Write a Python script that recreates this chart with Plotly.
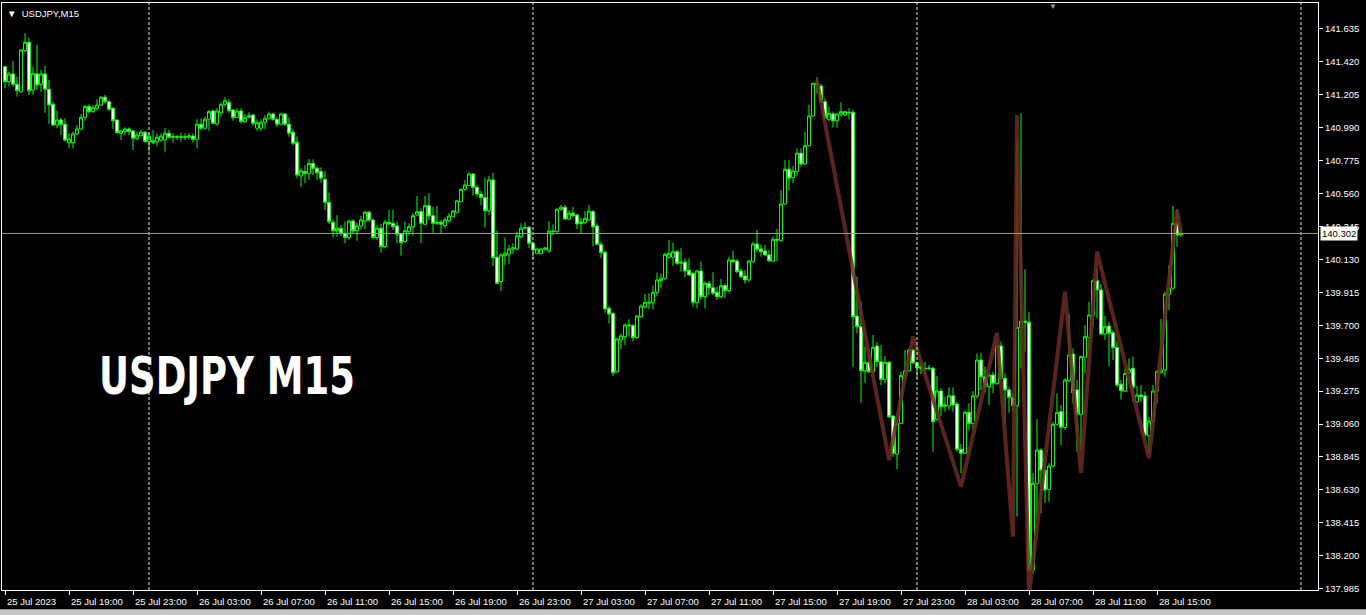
import pandas as pd
import plotly.graph_objects as go

# USDJPY M15 bars, first bar 25 Jul 2023 15:00
start_time = "2023-07-25 15:00"

opens = [
    141.389, 141.291, 141.342, 141.274, 141.226, 141.494, 141.548, 141.237, 141.342, 141.274,
    141.342, 141.242, 141.144, 141.009, 141.042, 141.014, 140.894, 140.894, 140.951, 140.983,
    141.059, 141.129, 141.096, 141.118, 141.139, 141.190, 141.161, 141.118, 141.042, 140.955,
    140.966, 140.983, 140.970, 140.922, 140.939, 140.962, 140.900, 140.894, 140.900, 140.911,
    140.911, 140.955, 140.929, 140.933, 140.929, 140.933, 140.929, 140.937, 140.916, 141.014,
    140.988, 141.046, 141.100, 141.016, 141.089, 141.144, 141.157, 141.107, 141.057, 141.100,
    141.031, 141.059, 141.074, 140.988, 140.988, 141.027, 141.053, 141.081, 141.046, 141.014,
    141.081, 141.014, 140.962, 140.896, 140.677, 140.705, 140.694, 140.759, 140.727, 140.705,
    140.655, 140.505, 140.375, 140.320, 140.336, 140.303, 140.275, 140.383, 140.320, 140.351,
    140.383, 140.440, 140.390, 140.275, 140.336, 140.216, 140.375, 140.368, 140.351, 140.299,
    140.249, 140.314, 140.346, 140.422, 140.444, 140.362, 140.483, 140.418, 140.375, 140.375,
    140.353, 140.385, 140.411, 140.440, 140.509, 140.590, 140.614, 140.690, 140.603, 140.559,
    140.535, 140.450, 140.651, 140.147, 139.988, 140.157, 140.168, 140.201, 140.201, 140.281,
    140.336, 140.342, 140.238, 140.170, 140.170, 140.199, 140.190, 140.318, 140.314, 140.460,
    140.473, 140.396, 140.434, 140.422, 140.377, 140.372, 140.390, 140.444, 140.351, 140.231,
    140.179, 139.814, 139.781, 139.401, 139.608, 139.629, 139.699, 139.701, 139.623, 139.759,
    139.825, 139.849, 139.853, 139.918, 139.994, 140.010, 140.147, 140.147, 140.183, 140.108,
    140.115, 140.062, 140.042, 139.853, 140.057, 139.890, 139.977, 139.948, 139.918, 139.890,
    139.962, 139.929, 140.129, 140.122, 140.057, 140.025, 139.999, 140.118, 140.233, 140.201,
    140.188, 140.162, 140.122, 140.264, 140.257, 140.494, 140.720, 140.668, 140.705, 140.825,
    140.755, 140.874, 141.068, 141.281, 141.263, 141.161, 141.046, 141.081, 141.037, 141.079,
    141.074, 141.092, 141.092, 139.764, 139.694, 139.407, 139.462, 139.401, 139.568, 139.466,
    139.351, 139.462, 139.112, 138.864, 139.064, 139.377, 139.407, 139.542, 139.459, 139.433,
    139.423, 139.425, 139.423, 139.091, 139.275, 139.184, 139.177, 139.244, 139.190, 138.895,
    138.869, 139.136, 139.064, 139.243, 139.477, 139.368, 139.303, 139.379, 139.325, 139.568,
    139.358, 139.282, 139.234, 139.179, 139.690, 139.731, 139.723, 138.108, 138.673, 138.890,
    138.760, 138.634, 138.786, 139.058, 139.140, 139.038, 139.342, 139.516, 139.282, 139.123,
    139.495, 139.625, 139.770, 139.994, 139.934, 139.647, 139.699, 139.655, 139.560, 139.319,
    139.275, 139.394, 139.423, 139.205, 139.249, 139.243, 138.984, 139.080, 139.275, 139.394,
    139.412, 139.907, 139.945, 140.368, 140.292,
]

highs = [
    141.394, 141.357, 141.426, 141.324, 141.503, 141.607, 141.578, 141.389, 141.531, 141.368,
    141.394, 141.302, 141.161, 141.102, 141.057, 141.053, 140.955, 140.966, 141.009, 141.081,
    141.139, 141.144, 141.139, 141.177, 141.198, 141.205, 141.172, 141.124, 141.042, 140.977,
    140.994, 140.994, 140.977, 140.966, 140.977, 140.966, 140.955, 140.977, 140.955, 140.955,
    140.988, 140.977, 140.955, 140.944, 140.959, 140.955, 140.955, 140.955, 141.046, 141.053,
    141.063, 141.107, 141.111, 141.118, 141.155, 141.190, 141.177, 141.111, 141.118, 141.118,
    141.081, 141.092, 141.081, 141.046, 141.046, 141.074, 141.096, 141.089, 141.059, 141.089,
    141.085, 141.059, 140.981, 140.933, 140.727, 140.748, 140.787, 140.785, 140.737, 140.733,
    140.709, 140.568, 140.394, 140.422, 140.357, 140.379, 140.390, 140.394, 140.372, 140.416,
    140.450, 140.450, 140.401, 140.357, 140.364, 140.390, 140.455, 140.455, 140.379, 140.303,
    140.379, 140.368, 140.437, 140.546, 140.466, 140.546, 140.564, 140.476, 140.481, 140.390,
    140.407, 140.437, 140.455, 140.520, 140.596, 140.651, 140.701, 140.694, 140.618, 140.580,
    140.666, 140.677, 140.698, 140.320, 140.173, 140.275, 140.227, 140.238, 140.314, 140.368,
    140.375, 140.351, 140.249, 140.205, 140.205, 140.216, 140.383, 140.362, 140.466, 140.488,
    140.488, 140.450, 140.476, 140.429, 140.407, 140.448, 140.488, 140.455, 140.368, 140.245,
    140.190, 139.829, 139.788, 139.619, 139.651, 139.716, 139.742, 139.712, 139.770, 139.840,
    139.907, 139.912, 139.962, 140.046, 140.042, 140.177, 140.259, 140.242, 140.194, 140.209,
    140.140, 140.140, 140.053, 140.064, 140.118, 139.988, 139.992, 140.049, 139.955, 140.005,
    139.977, 140.151, 140.188, 140.136, 140.075, 140.064, 140.129, 140.249, 140.325, 140.231,
    140.227, 140.194, 140.281, 140.331, 140.585, 140.781, 140.781, 140.742, 140.857, 140.857,
    140.966, 141.140, 141.285, 141.320, 141.276, 141.183, 141.128, 141.096, 141.085, 141.157,
    141.102, 141.118, 141.107, 140.020, 139.857, 139.564, 139.510, 139.640, 139.593, 139.575,
    139.503, 139.471, 139.118, 139.081, 139.401, 139.542, 139.553, 139.553, 139.466, 139.456,
    139.464, 139.444, 139.433, 139.373, 139.293, 139.238, 139.299, 139.299, 139.205, 138.930,
    139.147, 139.195, 139.275, 139.521, 139.525, 139.433, 139.390, 139.401, 139.575, 139.597,
    139.390, 139.299, 139.260, 140.916, 141.085, 140.068, 139.788, 138.739, 139.091, 138.902,
    138.804, 138.804, 139.075, 139.260, 139.184, 139.358, 139.777, 139.553, 139.347, 139.503,
    139.705, 139.857, 140.003, 140.075, 139.973, 139.764, 139.727, 139.673, 139.597, 139.347,
    139.423, 139.488, 139.499, 139.308, 139.314, 139.271, 139.107, 139.314, 139.412, 139.744,
    139.922, 140.097, 140.481, 140.460, 140.329,
]

lows = [
    141.248, 141.259, 141.259, 141.194, 141.220, 141.487, 141.205, 141.205, 141.237, 141.226,
    141.089, 141.016, 141.003, 140.988, 140.944, 140.905, 140.857, 140.857, 140.944, 140.977,
    141.037, 141.085, 141.089, 141.102, 141.133, 141.151, 141.102, 140.983, 140.955, 140.911,
    140.944, 140.944, 140.846, 140.911, 140.933, 140.894, 140.835, 140.885, 140.872, 140.900,
    140.835, 140.922, 140.894, 140.911, 140.900, 140.911, 140.916, 140.894, 140.857, 140.977,
    140.981, 140.972, 141.016, 141.003, 141.063, 141.129, 141.089, 141.037, 141.053, 141.020,
    141.020, 141.053, 141.003, 140.972, 140.972, 140.981, 141.046, 141.037, 140.998, 141.009,
    141.003, 140.933, 140.874, 140.662, 140.607, 140.629, 140.651, 140.683, 140.651, 140.633,
    140.455, 140.364, 140.275, 140.281, 140.286, 140.238, 140.259, 140.303, 140.255, 140.329,
    140.329, 140.379, 140.266, 140.259, 140.177, 140.205, 140.357, 140.325, 140.238, 140.157,
    140.242, 140.292, 140.288, 140.416, 140.238, 140.357, 140.390, 140.307, 140.357, 140.303,
    140.336, 140.372, 140.411, 140.437, 140.505, 140.580, 140.612, 140.548, 140.542, 140.488,
    140.340, 140.422, 140.090, 139.973, 139.927, 140.097, 140.103, 140.168, 140.194, 140.271,
    140.329, 140.205, 140.136, 140.168, 140.166, 140.190, 140.177, 140.292, 140.307, 140.450,
    140.390, 140.390, 140.407, 140.331, 140.303, 140.368, 140.385, 140.220, 140.227, 140.144,
    139.786, 139.716, 139.373, 139.390, 139.549, 139.575, 139.629, 139.597, 139.614, 139.755,
    139.814, 139.808, 139.808, 139.896, 139.948, 139.999, 140.140, 140.090, 140.097, 140.053,
    140.016, 140.027, 139.825, 139.814, 139.873, 139.814, 139.901, 139.901, 139.868, 139.883,
    139.883, 139.916, 140.111, 140.042, 140.010, 139.977, 139.988, 140.111, 140.183, 140.151,
    140.155, 140.118, 140.118, 140.122, 140.249, 140.488, 140.585, 140.629, 140.677, 140.742,
    140.748, 140.868, 141.063, 141.216, 141.151, 141.046, 141.031, 140.992, 140.992, 141.063,
    141.068, 141.046, 139.433, 139.651, 139.199, 139.329, 139.390, 139.386, 139.433, 139.314,
    139.325, 139.097, 138.847, 138.765, 139.060, 139.358, 139.401, 139.451, 139.358, 139.386,
    139.386, 139.412, 138.879, 139.081, 139.112, 139.140, 139.151, 139.140, 138.879, 138.739,
    138.864, 139.021, 139.021, 139.227, 139.282, 139.264, 139.184, 139.260, 139.314, 139.347,
    139.064, 139.134, 139.140, 138.456, 139.423, 139.531, 138.097, 138.090, 138.434, 138.478,
    138.547, 138.554, 138.778, 139.053, 138.923, 139.021, 139.334, 139.195, 138.879, 138.890,
    139.394, 139.542, 139.694, 139.749, 139.640, 139.608, 139.438, 139.477, 139.299, 139.221,
    139.270, 139.390, 139.205, 139.195, 139.205, 138.977, 138.869, 139.064, 139.195, 139.390,
    139.368, 139.803, 139.938, 140.216, 140.281,
]

closes = [
    141.291, 141.342, 141.274, 141.233, 141.498, 141.548, 141.233, 141.346, 141.270, 141.342,
    141.242, 141.139, 141.009, 141.042, 141.014, 140.911, 140.918, 140.951, 140.983, 141.059,
    141.129, 141.096, 141.122, 141.139, 141.190, 141.161, 141.111, 141.037, 140.959, 140.970,
    140.983, 140.966, 140.922, 140.944, 140.962, 140.900, 140.937, 140.907, 140.929, 140.937,
    140.955, 140.929, 140.933, 140.929, 140.933, 140.929, 140.939, 140.916, 141.014, 140.988,
    141.046, 141.096, 141.020, 141.100, 141.144, 141.166, 141.102, 141.057, 141.100, 141.031,
    141.059, 141.070, 141.020, 141.024, 141.027, 141.053, 141.081, 141.046, 141.014, 141.081,
    141.014, 140.955, 140.890, 140.683, 140.711, 140.694, 140.759, 140.727, 140.698, 140.662,
    140.505, 140.379, 140.320, 140.336, 140.303, 140.275, 140.383, 140.320, 140.351, 140.390,
    140.440, 140.390, 140.275, 140.336, 140.216, 140.375, 140.364, 140.346, 140.297, 140.242,
    140.320, 140.346, 140.418, 140.444, 140.368, 140.483, 140.416, 140.368, 140.370, 140.362,
    140.390, 140.416, 140.448, 140.514, 140.590, 140.618, 140.690, 140.603, 140.559, 140.535,
    140.450, 140.651, 140.144, 139.977, 140.162, 140.173, 140.201, 140.209, 140.286, 140.336,
    140.340, 140.238, 140.194, 140.201, 140.201, 140.207, 140.318, 140.314, 140.460, 140.473,
    140.396, 140.434, 140.418, 140.364, 140.368, 140.401, 140.448, 140.346, 140.231, 140.177,
    139.810, 139.777, 139.394, 139.614, 139.634, 139.705, 139.705, 139.623, 139.764, 139.829,
    139.853, 139.853, 139.918, 139.999, 140.010, 140.166, 140.173, 140.183, 140.108, 140.115,
    140.057, 140.031, 139.853, 140.057, 139.890, 139.977, 139.948, 139.912, 139.890, 139.962,
    139.929, 140.129, 140.118, 140.053, 140.020, 139.999, 140.122, 140.233, 140.199, 140.183,
    140.162, 140.124, 140.264, 140.259, 140.494, 140.720, 140.662, 140.709, 140.825, 140.755,
    140.874, 141.068, 141.281, 141.270, 141.161, 141.053, 141.085, 141.037, 141.081, 141.096,
    141.096, 141.089, 139.759, 139.694, 139.407, 139.462, 139.401, 139.560, 139.466, 139.351,
    139.462, 139.107, 138.869, 139.064, 139.377, 139.407, 139.542, 139.459, 139.427, 139.423,
    139.419, 139.423, 139.075, 139.275, 139.173, 139.177, 139.244, 139.184, 138.895, 138.869,
    139.136, 139.064, 139.243, 139.477, 139.368, 139.303, 139.379, 139.325, 139.568, 139.358,
    139.282, 139.234, 139.179, 139.690, 139.731, 139.723, 138.108, 138.673, 138.890, 138.760,
    138.630, 138.786, 139.058, 139.136, 139.038, 139.347, 139.510, 139.264, 139.123, 139.499,
    139.629, 139.770, 139.994, 139.934, 139.647, 139.694, 139.651, 139.557, 139.314, 139.277,
    139.390, 139.417, 139.299, 139.249, 139.238, 138.988, 139.080, 139.275, 139.401, 139.412,
    139.907, 139.945, 140.368, 140.292, 140.302,
]

# ZigZag indicator turning points
zigzag_times = [
    "2023-07-27 17:45", "2023-07-27 22:15", "2023-07-27 23:45", "2023-07-28 02:45",
    "2023-07-28 05:00", "2023-07-28 06:00", "2023-07-28 06:15", "2023-07-28 07:00",
    "2023-07-28 09:15", "2023-07-28 10:15", "2023-07-28 11:15", "2023-07-28 14:30",
    "2023-07-28 16:15", "2023-07-28 16:30",
]
zigzag_prices = [
    141.298, 138.825, 139.629, 138.651, 139.653, 138.325, 141.074, 137.945,
    139.922, 138.741, 140.183, 138.838, 140.455, 140.302,
]

bid_price = 140.302

price_labels = [
    "141.635", "141.420", "141.205", "140.990", "140.775", "140.560", "140.345", "140.130",
    "139.915", "139.700", "139.485", "139.275", "139.060", "138.845", "138.630", "138.415",
    "138.200", "137.985",
]

time_labels = [
    "25 Jul 2023", "25 Jul 19:00", "25 Jul 23:00", "26 Jul 03:00", "26 Jul 07:00",
    "26 Jul 11:00", "26 Jul 15:00", "26 Jul 19:00", "26 Jul 23:00", "27 Jul 03:00",
    "27 Jul 07:00", "27 Jul 11:00", "27 Jul 15:00", "27 Jul 19:00", "27 Jul 23:00",
    "28 Jul 03:00", "28 Jul 07:00", "28 Jul 11:00", "28 Jul 15:00",
]

day_separators = ["2023-07-26", "2023-07-27", "2023-07-28", "2023-07-29"]

bar_times = pd.date_range(start_time, periods=len(closes), freq="15min")
label_times = pd.date_range(start_time, periods=len(time_labels), freq="4h")

GREEN = "#00ff00"
AXIS_FONT = dict(family="Liberation Sans, Arial, sans-serif", size=9.5, color="#ffffff")

fig = go.Figure()

fig.add_trace(go.Candlestick(
    x=bar_times, open=opens, high=highs, low=lows, close=closes,
    increasing=dict(line=dict(color=GREEN, width=1), fillcolor="#000000"),
    decreasing=dict(line=dict(color=GREEN, width=1), fillcolor="#ffffff"),
    whiskerwidth=0,
    hoverinfo="skip",
    showlegend=False,
))

fig.add_trace(go.Scatter(
    x=pd.to_datetime(zigzag_times), y=zigzag_prices,
    mode="lines",
    line=dict(color="rgba(108,42,36,0.85)", width=4),
    hoverinfo="skip",
    showlegend=False,
))

shapes = []
for d in day_separators:
    shapes.append(dict(type="line", xref="x", yref="paper", x0=d, x1=d, y0=0, y1=1,
                       line=dict(color="#e6e6e6", width=1, dash="3px,2px")))
# bid line
shapes.append(dict(type="line", xref="paper", yref="y", x0=0, x1=1, y0=bid_price, y1=bid_price,
                   line=dict(color="#9c9c9c", width=1)))
# window bottom edge
shapes.append(dict(type="rect", xref="paper", yref="paper", x0=-0.01, x1=1.05, y0=-0.045, y1=-0.033,
                   fillcolor="#c8c8c8", line=dict(width=0)))

annotations = []
for t, lab in zip(label_times, time_labels):
    annotations.append(dict(x=t, xref="x", y=0, yref="paper", text=lab, showarrow=False,
                            xanchor="left", yanchor="top", yshift=-4, font=AXIS_FONT))

annotations.append(dict(x=1, xref="paper", y=bid_price, yref="y", text="140.302", showarrow=False,
                        xanchor="left", yanchor="middle", xshift=2, bgcolor="#ffffff",
                        borderpad=1, font=dict(family="Liberation Sans, Arial, sans-serif",
                                               size=9.5, color="#000000")))

annotations.append(dict(x=0, xref="paper", y=1, yref="paper", text="▼  USDJPY,M15", showarrow=False,
                        xanchor="left", yanchor="top", xshift=3, yshift=-3, font=AXIS_FONT))

annotations.append(dict(x=0.7986, xref="paper", y=1, yref="paper", text="▼", showarrow=False,
                        xanchor="center", yanchor="middle", yshift=-2,
                        font=dict(size=8, color="#9c9c9c")))

annotations.append(dict(x=0.0722, xref="paper", y=0.3646, yref="paper", text="<b>USDJPY M15</b>",
                        showarrow=False, xanchor="left", yanchor="middle",
                        font=dict(family="Liberation Sans Narrow, DejaVu Sans Condensed, sans-serif",
                                  size=52, color="#ffffff")))

fig.update_layout(
    width=1366, height=615,
    margin=dict(l=2, r=48, t=3, b=25),
    paper_bgcolor="#000000", plot_bgcolor="#000000",
    boxgap=0.25, boxgroupgap=0,
    shapes=shapes, annotations=annotations,
    xaxis=dict(
        type="date",
        range=["2023-07-25 14:48:45", "2023-07-29 01:03:45"],
        rangeslider=dict(visible=False),
        showgrid=False, zeroline=False,
        showline=True, linecolor="#ffffff", linewidth=1, mirror=True,
        tickmode="array", tickvals=label_times, showticklabels=False,
        ticks="outside", ticklen=4, tickcolor="#ffffff",
    ),
    yaxis=dict(
        side="right",
        range=[137.978, 141.804],
        showgrid=False, zeroline=False,
        showline=True, linecolor="#ffffff", linewidth=1, mirror=True,
        tickmode="array", tickvals=[float(v) for v in price_labels], ticktext=price_labels,
        ticks="outside", ticklen=4, tickcolor="#ffffff",
        tickfont=AXIS_FONT,
    ),
)

# the watermark is a narrow heavy face: squeeze the bold text horizontally
post = """
document.body.style.margin = '0';
function squeezeTitle() {
  document.querySelectorAll('text.annotation-text').forEach(function (el) {
    if (el.textContent === 'USDJPY M15') {
      el.style.transformBox = 'fill-box';
      el.style.transformOrigin = '0% 50%';
      el.style.transform = 'scaleX(0.79)';
    }
  });
}
squeezeTitle();
setTimeout(squeezeTitle, 50);
"""

fig.write_html("out.html", config={"displayModeBar": False}, post_script=post)
